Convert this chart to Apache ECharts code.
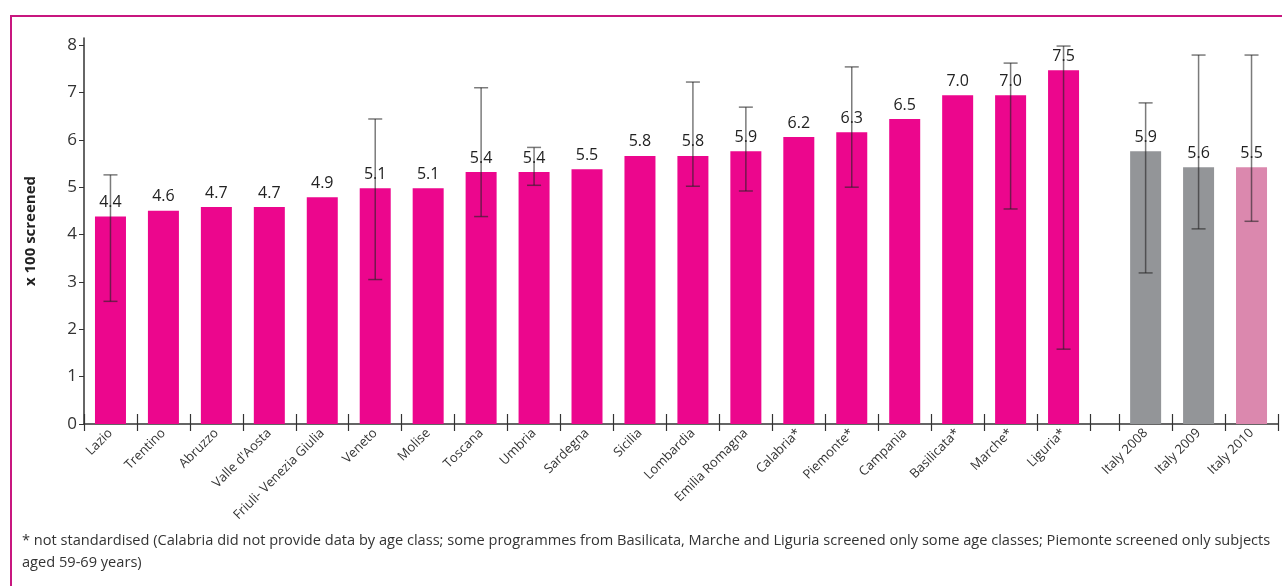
<!DOCTYPE html>
<html>
<head>
<meta charset="utf-8">
<title>Detection rate x 100 screened</title>
<script src="https://cdn.jsdelivr.net/npm/echarts@6/dist/echarts.min.js"></script>
<style>
  html, body { margin: 0; padding: 0; background: #fff; }
  #frame { position: absolute; left: 10px; top: 15px; width: 1300px; height: 600px; border: 2px solid #c8177f; box-sizing: border-box; }
  #chart { position: absolute; left: 0; top: 0; width: 1282px; height: 586px; }
</style>
</head>
<body>
<div id="frame"></div>
<div id="chart"></div>
<script>
// regions and the three national values
const regions = ['Lazio', 'Trentino', 'Abruzzo', "Valle d'Aosta", 'Friuli- Venezia Giulia', 'Veneto', 'Molise',
  'Toscana', 'Umbria', 'Sardegna', 'Sicilia', 'Lombardia', 'Emilia Romagna', 'Calabria*', 'Piemonte*',
  'Campania', 'Basilicata*', 'Marche*', 'Liguria*']
const italy = ['Italy 2008', 'Italy 2009', 'Italy 2010']

// bar heights as drawn, printed labels, and confidence limits (null = no error bar)
const regionValues = [4.38, 4.5, 4.58, 4.58, 4.79, 4.98, 4.98, 5.32, 5.32, 5.38, 5.66, 5.66, 5.76, 6.06, 6.16, 6.44, 6.94, 6.94, 7.47]
const regionLabels = ['4.4', '4.6', '4.7', '4.7', '4.9', '5.1', '5.1', '5.4', '5.4', '5.5', '5.8', '5.8', '5.9', '6.2', '6.3', '6.5', '7.0', '7.0', '7.5']
const regionLow = [2.59, null, null, null, null, 3.05, null, 4.38, 5.04, null, null, 5.02, 4.92, null, 5.0, null, null, 4.54, 1.58]
const regionHigh = [5.26, null, null, null, null, 6.44, null, 7.1, 5.84, null, null, 7.22, 6.69, null, 7.54, null, null, 7.62, 7.98]

const italyValues = [5.76, 5.42, 5.42]
const italyLabels = ['5.9', '5.6', '5.5']
const italyLow = [3.19, 4.12, 4.28]
const italyHigh = [6.78, 7.79, 7.79]

const yTicks = [0, 1, 2, 3, 4, 5, 6, 7, 8]

const MAGENTA = '#ec068d'
const GREY = '#939598'
const PINK = '#db88ae'
const GAP = 0.55 // narrow empty slot between regions and Italy

// slot layout on the x scale
const names = regions.concat(italy)
const values = regionValues.concat(italyValues)
const labels = regionLabels.concat(italyLabels)
const lows = regionLow.concat(italyLow)
const highs = regionHigh.concat(italyHigh)
const slotStart = names.map((n, i) => i < regions.length ? i : i + GAP)
const centers = slotStart.map(s => s + 0.5)
const bounds = slotStart.concat([slotStart[slotStart.length - 1] + 1])
bounds.splice(regions.length, 0, regions.length)
const xMax = bounds[bounds.length - 1]
const colors = names.map((n, i) => i < regions.length ? MAGENTA : (i === names.length - 1 ? PINK : GREY))

const barData = values.map((v, i) => ({ value: [centers[i], v], itemStyle: { color: colors[i] } }))
const errData = []
lows.forEach((lo, i) => { if (lo !== null) errData.push([centers[i], lo, highs[i]]) })

const chart = echarts.init(document.getElementById('chart'))
const FONT = 'Open Sans'

chart.setOption({
  animation: false,
  textStyle: { fontFamily: FONT },
  grid: { left: 84, right: 4, top: 38, bottom: 162 },
  xAxis: [{
    type: 'value',
    min: 0,
    max: xMax,
    splitLine: { show: false },
    axisLine: { show: true, lineStyle: { color: '#333', width: 1.5 } },
    axisTick: { show: true, length: 7, customValues: bounds, lineStyle: { color: '#333', width: 1.2 } },
    axisLabel: {
      customValues: centers,
      rotate: 45,
      margin: 7,
      fontSize: 13,
      color: '#333',
      fontFamily: FONT,
      formatter: function (v) {
        const k = centers.findIndex(c => Math.abs(c - v) < 1e-6)
        return k >= 0 ? names[k] : ''
      }
    }
  }, {
    type: 'value',
    min: 0,
    max: xMax,
    position: 'bottom',
    splitLine: { show: false },
    axisLine: { show: false },
    axisTick: { show: true, inside: true, length: 10, customValues: bounds, lineStyle: { color: '#333', width: 1.2 } },
    axisLabel: { show: false }
  }],
  yAxis: {
    type: 'value',
    min: 0,
    max: 8.15,
    name: 'x 100 screened',
    nameLocation: 'middle',
    nameGap: 46,
    nameTextStyle: { fontSize: 15, fontWeight: 'bold', color: '#222', fontFamily: FONT },
    splitLine: { show: false },
    axisLine: { show: true, lineStyle: { color: '#333', width: 1.5 } },
    axisTick: { show: true, length: 5, customValues: yTicks, lineStyle: { color: '#333' } },
    axisLabel: { customValues: yTicks, fontSize: 17, color: '#333', margin: 7, fontFamily: FONT }
  },
  series: [{
    type: 'bar',
    barWidth: 31,
    data: barData,
    label: {
      show: true,
      position: 'top',
      distance: 6,
      fontSize: 16,
      color: '#222',
      fontFamily: FONT,
      formatter: p => labels[p.dataIndex]
    }
  }, {
    type: 'custom',
    z: 5,
    data: errData,
    renderItem: function (params, api) {
      const x = api.value(0)
      const lo = api.coord([x, api.value(1)])
      const hi = api.coord([x, api.value(2)])
      const w = 7
      const style = { stroke: 'rgba(35,35,35,0.6)', lineWidth: 1.5 }
      return {
        type: 'group',
        children: [
          { type: 'line', shape: { x1: lo[0], y1: lo[1], x2: hi[0], y2: hi[1] }, style: style },
          { type: 'line', shape: { x1: lo[0] - w, y1: lo[1], x2: lo[0] + w, y2: lo[1] }, style: style },
          { type: 'line', shape: { x1: hi[0] - w, y1: hi[1], x2: hi[0] + w, y2: hi[1] }, style: style }
        ]
      }
    }
  }],
  graphic: [{
    type: 'text',
    left: 22,
    top: 530,
    style: {
      text: '* not standardised (Calabria did not provide data by age class; some programmes from Basilicata, Marche and Liguria screened only some age classes; Piemonte screened only subjects\naged 59-69 years)',
      fontSize: 14.6,
      lineHeight: 22,
      fill: '#333',
      fontFamily: FONT
    }
  }]
})
</script>
</body>
</html>
